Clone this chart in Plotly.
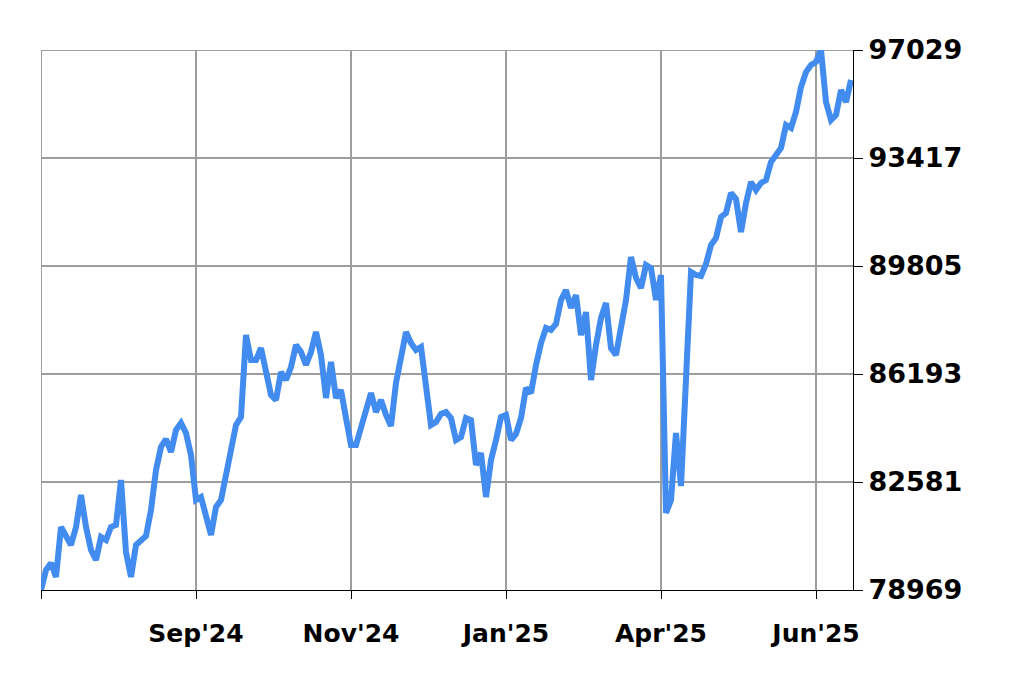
import plotly.graph_objects as go

closes = [
    78969, 79638, 79872, 79404, 81076, 80808, 80474, 81076, 82146, 81076,
    80307, 79972, 80742, 80641, 81076, 81143, 82648, 80240, 79404, 80474,
    80641, 80775, 81645, 82982, 83751, 84019, 83584, 84320, 84554, 84220,
    83484, 81979, 82079, 81377, 80808, 81745, 81979, 82815, 83751, 84487,
    84755, 87497, 86661, 86661, 87062, 86327, 85491, 85323, 86260, 85992,
    86427, 87163, 86929, 86494, 86929, 87598, 86828, 85390, 86594, 85390,
    85658, 84721, 83818, 83818, 84387, 84989, 85557, 84922, 85323, 84822,
    84454, 85892, 86828, 87598, 87230, 86996, 87096, 85725, 84487, 84588,
    84855, 84922, 84721, 83986, 84086, 84721, 84654, 83150, 83551, 82079,
    83317, 83986, 84755, 84822, 83986, 84186, 84721, 85725, 85557, 86494,
    87230, 87731, 87664, 87865, 88668, 89002, 88400, 88835, 87497, 88266,
    85992, 87163, 88066, 88567, 87062, 86828, 87731, 88668, 90106, 89404,
    89069, 89838, 89738, 88668, 89504, 81544, 81979, 84220, 82447, 86327,
    89604, 89504, 89470, 89872, 90507, 90741, 91444, 91577, 92246, 92046,
    90942, 91912, 92614, 92347, 92581, 92681, 93283, 93517, 93751, 94520,
    94420, 94955, 95791, 96293, 96527, 96627, 97029, 95290, 94688, 94855,
    95691, 95290, 96025,
]
session = list(range(len(closes)))

# x axis: month labels at fixed session offsets
month_pos = [0, 31, 62, 93, 124, 155]
month_labels = ["", "Sep'24", "Nov'24", "Jan'25", "Apr'25", "Jun'25"]

# y axis: five equal steps between the low and the high
price_ticks = [78969, 82581, 86193, 89805, 93417, 97029]

grid = "#9e9e9e"

fig = go.Figure()
fig.add_trace(
    go.Scatter(
        x=session,
        y=closes,
        mode="lines",
        line={"color": "#428bef", "width": 6},
        hoverinfo="y",
    )
)

# plotly drops grid lines sitting on the range ends, so draw the top and left edges by hand
fig.add_shape(
    type="line", xref="paper", x0=0, x1=1, yref="y",
    y0=price_ticks[-1], y1=price_ticks[-1],
    line={"color": grid, "width": 2}, layer="below",
)
fig.add_shape(
    type="line", xref="x", x0=month_pos[0], x1=month_pos[0], yref="paper",
    y0=0, y1=1,
    line={"color": grid, "width": 2}, layer="below",
)

# the page body adds 8px, so margins are offset to land the plot at 41..853 / 50..590
fig.update_layout(
    width=1024,
    height=700,
    margin={"l": 33, "r": 179, "t": 42, "b": 118},
    plot_bgcolor="white",
    paper_bgcolor="white",
    showlegend=False,
    font={"family": "DejaVu Sans", "color": "black"},
)
fig.update_xaxes(
    range=[0, 162.4],
    tickmode="array",
    tickvals=month_pos,
    ticktext=month_labels,
    showgrid=True,
    gridcolor=grid,
    gridwidth=2,
    showline=True,
    linecolor="black",
    linewidth=1,
    ticks="outside",
    ticklen=8,
    tickcolor="black",
    tickwidth=1,
    tickfont={"size": 25, "weight": "bold"},
    ticklabelstandoff=13,
    zeroline=False,
)
fig.update_yaxes(
    range=[price_ticks[0], price_ticks[-1]],
    side="right",
    tickmode="array",
    tickvals=price_ticks,
    ticktext=[str(v) for v in price_ticks],
    showgrid=True,
    gridcolor=grid,
    gridwidth=2,
    showline=True,
    linecolor="black",
    linewidth=1,
    ticks="outside",
    ticklen=9,
    tickcolor="black",
    tickwidth=1,
    tickfont={"size": 27, "weight": "bold"},
    zeroline=False,
)

fig.write_html("out.html")
